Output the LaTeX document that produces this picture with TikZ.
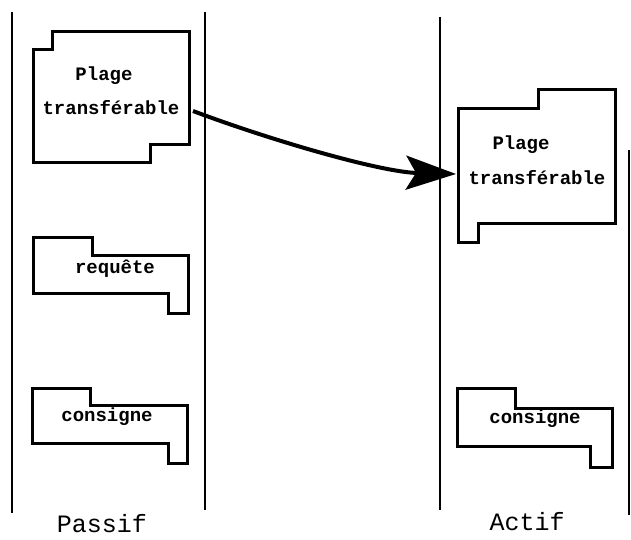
\documentclass[tikz,border=0pt]{standalone}
\usepackage{fontspec}
\setmonofont{Liberation Mono}
\usetikzlibrary{arrows.meta}
\begin{document}
\begin{tikzpicture}[x=1pt,y=-1pt,
  lane/.style={line width=2pt},
  blockshape/.style={line width=3pt, line join=miter},
  boxtext/.style={font=\ttfamily\bfseries\fontsize{19}{21}\selectfont, inner sep=0pt},
  lanelabel/.style={font=\ttfamily\fontsize{25}{28}\selectfont, inner sep=0pt},
  transfer/.style={line width=4pt, -{Stealth[length=50pt,width=34pt,inset=10pt]}}]
\useasboundingbox (0,0) rectangle (631,540);
% lanes
\draw[lane] (12,12) -- (12,513);
\draw[lane] (205,12) -- (205,510);
\draw[lane] (440,17) -- (440,510);
\draw[lane] (629,150) -- (629,515);
% blocks
\draw[blockshape] (52,32) -- (189,32) -- (189,145) -- (150,145) -- (150,163) -- (33,163) -- (33,50) -- (52,50) -- cycle;
\draw[blockshape] (538,90) -- (615,90) -- (615,223) -- (478,223) -- (478,242) -- (458,242) -- (458,109) -- (538,109) -- cycle;
\draw[blockshape] (33,237) -- (92,237) -- (92,255) -- (188,255) -- (188,313) -- (168,313) -- (168,293) -- (33,293) -- cycle;
\draw[blockshape] (32,388) -- (90,388) -- (90,405) -- (187,405) -- (187,463) -- (168,463) -- (168,443) -- (32,443) -- cycle;
\draw[blockshape] (457,388) -- (515,388) -- (515,408) -- (612,408) -- (612,467) -- (590,467) -- (590,446) -- (457,446) -- cycle;
% texts
\node[boxtext] (p1) at (104,76) {Plage};
\node[boxtext] (t1) at (111,108) {transférable};
\node[boxtext] (p2) at (521,145) {Plage};
\node[boxtext] (t2) at (537,178) {transférable};
\node[boxtext] (req) at (115,269) {requête};
\node[boxtext] (c1) at (107,417) {consigne};
\node[boxtext] (c2) at (535,419) {consigne};
\node[lanelabel] (passif) at (102,524) {Passif};
\node[lanelabel] (actif) at (527,522) {Actif};
% arrow
\coordinate (from) at (193,111);
\coordinate (to) at (456,174);
\draw[transfer] (from) .. controls (270,140) and (380,172) .. (to);
\end{tikzpicture}
\end{document}
